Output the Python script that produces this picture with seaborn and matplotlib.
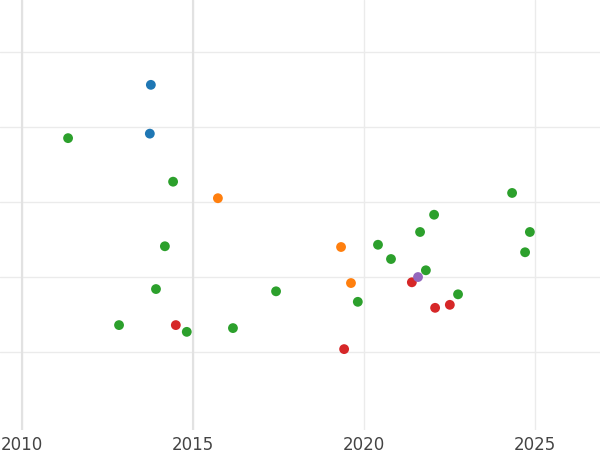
import matplotlib
matplotlib.use("Agg")
import matplotlib.pyplot as plt
import seaborn as sns
import pandas as pd

blue_x = [2013.77, 2013.74]
blue_y = [4.56, 3.91]
green_x = [2011.35, 2014.42, 2014.18, 2013.92, 2012.84, 2014.82, 2016.17, 2017.43, 2019.82, 2020.41,
           2020.79, 2021.64, 2022.05, 2021.81, 2022.75, 2024.33, 2024.85, 2024.71]
green_y = [3.85, 3.27, 2.41, 1.84, 1.36, 1.27, 1.32, 1.81, 1.67, 2.43,
           2.24, 2.60, 2.83, 2.09, 1.77, 3.12, 2.60, 2.33]
orange_x = [2015.73, 2019.33, 2019.62]
orange_y = [3.05, 2.40, 1.92]
red_x = [2014.50, 2019.42, 2021.40, 2022.08, 2022.51]
red_y = [1.36, 1.04, 1.93, 1.59, 1.63]
purple_x = [2021.58]
purple_y = [2.00]

groups = [("blue", blue_x, blue_y, "#1f77b4"), ("green", green_x, green_y, "#2ca02c"),
          ("orange", orange_x, orange_y, "#ff7f0e"), ("red", red_x, red_y, "#d62728"),
          ("purple", purple_x, purple_y, "#9467bd")]
rows = []
for name, xs, ys, _ in groups:
    rows += [{"x": a, "y": b, "g": name} for a, b in zip(xs, ys)]
df = pd.DataFrame(rows)
palette = {n: c for n, _, _, c in groups}

sns.set_style("white")
fig = plt.figure(figsize=(6, 4.5), dpi=100)
ax = fig.add_axes([0, 0.044, 1, 0.956])
sns.scatterplot(data=df, x="x", y="y", hue="g", palette=palette, s=50, edgecolor="none",
                legend=False, ax=ax, zorder=3)
ax.set_xlim(2009.36, 2026.9)
ax.set_ylim(-0.04, 5.69)
ax.set_xticks([2010, 2015, 2020, 2025])
ax.set_yticks([1, 2, 3, 4, 5])
ax.set_yticklabels([])
ax.grid(True, color="#ebebeb", linewidth=1)
for v in (2010, 2015):
    ax.axvline(v, color="#e2e2e2", linewidth=1.5, zorder=1)
ax.tick_params(length=0, labelsize=12, labelcolor="#444444", pad=4)
ax.set_xlabel("")
ax.set_ylabel("")
for s in ax.spines.values():
    s.set_visible(False)
fig.savefig("out.png", dpi=100)
